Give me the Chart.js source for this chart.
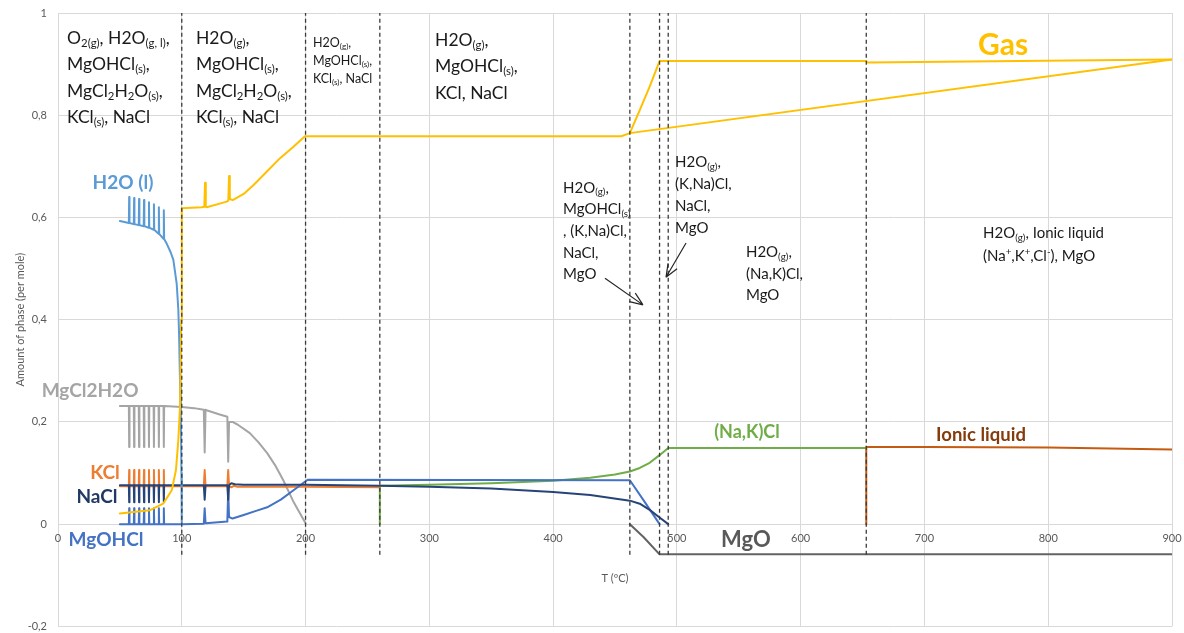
<!DOCTYPE html>
<html>
<head>
<meta charset="utf-8">
<script src="https://cdn.jsdelivr.net/npm/chart.js@4.4.1/dist/chart.umd.min.js"></script>
<style>
  html, body { margin: 0; padding: 0; background: #ffffff; }
  #wrap { width: 1184px; height: 633px; position: relative; }
</style>
</head>
<body>
<div id="wrap"><canvas id="c" width="1184" height="633"></canvas></div>
<script>
// ---------- DATA ----------
const xTickValues = [0, 100, 200, 300, 400, 500, 600, 700, 800, 900];
const xTickLabels = ['0', '100', '200', '300', '400', '500', '600', '700', '800', '900'];
const yTickValues = [-0.2, 0, 0.2, 0.4, 0.6, 0.8, 1];
const yTickLabels = ['-0,2', '0', '0,2', '0,4', '0,6', '0,8', '1'];

// temperatures of the phase boundaries (dashed lines)
const boundaryT = [100, 200, 260, 462, 486, 493, 653];
const boundaryRange = [-0.06, 1];

// Gas (main branch)
const gasT = [50, 74, 85, 92, 95.3, 97.2, 98.6, 99.5, 100, 116, 118.2, 118.8, 119.4, 120.1, 136.3, 137.6, 138.2, 138.8, 141.1, 150, 157.8, 168, 179.4, 190, 199.5, 455, 462, 470, 478, 486, 653, 654, 900];
const gasV = [0.021, 0.027, 0.04, 0.067, 0.106, 0.164, 0.23, 0.4, 0.618, 0.62, 0.621, 0.668, 0.621, 0.62, 0.631, 0.633, 0.681, 0.636, 0.634, 0.646, 0.663, 0.688, 0.716, 0.738, 0.759, 0.759, 0.765, 0.81, 0.856, 0.906, 0.906, 0.903, 0.909];
// Gas (second branch)
const gas2T = [462, 900];
const gas2V = [0.765, 0.909];

// oscillation teeth below 90 ºC
const toothT = [57.5, 61.5, 65.5, 69.5, 73.5, 77.5, 81.5, 85.5];

// H2O (l)
const h2oT = [50, 57.5, 61.5, 65.5, 69.5, 73.5, 77.5, 81.5, 85.5, 88, 91, 93.2, 95.9, 97.2, 97.8, 98.6, 99.3, 99.7, 100];
const h2oV = [0.593, 0.589, 0.587, 0.585, 0.583, 0.58, 0.576, 0.568, 0.558, 0.548, 0.532, 0.517, 0.47, 0.42, 0.373, 0.275, 0.2, 0.1, 0.0];
const h2oToothBase = [0.589, 0.587, 0.585, 0.583, 0.58, 0.576, 0.568, 0.558];
const h2oToothTip = [0.640, 0.638, 0.636, 0.634, 0.630, 0.626, 0.620, 0.614];

// MgCl2H2O
const mgcl2T = [50, 100, 110, 117.8, 118.5, 119.2, 120, 130, 136.8, 137.5, 138.2, 141, 145, 155, 162, 169, 176, 182, 190, 200];
const mgcl2V = [0.231, 0.229, 0.227, 0.224, 0.14, 0.224, 0.223, 0.215, 0.21, 0.122, 0.2, 0.2, 0.195, 0.178, 0.16, 0.139, 0.113, 0.086, 0.045, 0.002];
const mgcl2ToothBase = [0.231, 0.231, 0.231, 0.231, 0.231, 0.231, 0.231, 0.231];
const mgcl2ToothTip = [0.151, 0.151, 0.151, 0.151, 0.151, 0.151, 0.151, 0.151];

// KCl
const kclT = [50, 117.8, 118.5, 119.2, 136.8, 137.5, 138.2, 140, 142, 145, 200, 260];
const kclV = [0.074, 0.074, 0.106, 0.074, 0.074, 0.106, 0.074, 0.072, 0.075, 0.073, 0.073, 0.072];
const kclToothBase = [0.074, 0.074, 0.074, 0.074, 0.074, 0.074, 0.074, 0.074];
const kclToothTip = [0.106, 0.106, 0.106, 0.106, 0.106, 0.106, 0.106, 0.106];

// NaCl
const naclT = [50, 117.8, 118.5, 119.2, 136.8, 137.5, 138.2, 140, 143, 150, 200, 260, 300, 350, 400, 430, 462, 470, 478, 486, 493];
const naclV = [0.076, 0.076, 0.048, 0.076, 0.076, 0.048, 0.076, 0.08, 0.078, 0.077, 0.077, 0.075, 0.073, 0.07, 0.063, 0.057, 0.046, 0.04, 0.028, 0.013, 0.0];
const naclToothBase = [0.076, 0.076, 0.076, 0.076, 0.076, 0.076, 0.076, 0.076];
const naclToothTip = [0.043, 0.043, 0.043, 0.043, 0.043, 0.043, 0.043, 0.043];

// MgOHCl
const mgohclT = [50, 100, 117.8, 118.5, 119.2, 136.8, 137.5, 138.2, 141, 150, 160, 169, 180, 190, 200, 202, 462, 473, 486];
const mgohclV = [0.0, 0.0, 0.001, 0.031, 0.002, 0.005, 0.066, 0.014, 0.011, 0.018, 0.026, 0.033, 0.048, 0.066, 0.084, 0.087, 0.086, 0.047, 0.0];
const mgohclToothBase = [0, 0, 0, 0, 0, 0, 0, 0];
const mgohclToothTip = [0.031, 0.031, 0.031, 0.031, 0.031, 0.031, 0.031, 0.031];

// (Na,K)Cl
const nakclT = [260, 260, 300, 350, 400, 430, 450, 462, 470, 478, 486, 493, 653];
const nakclV = [0.0, 0.075, 0.077, 0.08, 0.085, 0.091, 0.097, 0.103, 0.11, 0.12, 0.135, 0.149, 0.149];

// Ionic liquid
const ionicT = [653, 653, 700, 800, 900];
const ionicV = [0.0, 0.151, 0.151, 0.15, 0.146];

// MgO
const mgoT = [462, 473, 486, 900];
const mgoV = [0.0, -0.025, -0.059, -0.059];

// ---------- helpers ----------
function pts(xs, ys) { return xs.map((x, i) => ({ x: x, y: ys[i] })); }
// curve points plus thin oscillation teeth (base -> tip -> base)
function withTeeth(xs, ys, tx, tBase, tTip) {
  const out = pts(xs, ys).filter(p => !tx.includes(p.x));
  const w = 0.25; // tooth half-width in ºC (drawing width only)
  tx.forEach((t, i) => {
    out.push({ x: t - w, y: tBase[i] }, { x: t, y: tTip[i] }, { x: t + w, y: tBase[i] });
  });
  out.sort((a, b) => a.x - b.x);
  return out;
}

const FONT = 'Lato, "Open Sans", sans-serif';

const lineDS = (label, data, color, order, width) => ({
  label, data, borderColor: color, backgroundColor: color, showLine: true,
  pointRadius: 0, borderWidth: width || 2, order, fill: false, tension: 0,
  borderJoinStyle: 'round', borderCapStyle: 'round'
});

const datasets = [
  lineDS('Gas', pts(gasT, gasV), '#FFC000', 2),
  lineDS('Gas2', pts(gas2T, gas2V), '#FFC000', 2),
  lineDS('H2O (l)', withTeeth(h2oT, h2oV, toothT, h2oToothBase, h2oToothTip), '#5B9BD5', 3),
  lineDS('MgCl2H2O', withTeeth(mgcl2T, mgcl2V, toothT, mgcl2ToothBase, mgcl2ToothTip), '#A5A5A5', 7),
  lineDS('KCl', withTeeth(kclT, kclV, toothT, kclToothBase, kclToothTip), '#ED7D31', 6),
  lineDS('NaCl', withTeeth(naclT, naclV, toothT, naclToothBase, naclToothTip), '#264478', 4),
  lineDS('MgOHCl', withTeeth(mgohclT, mgohclV, toothT, mgohclToothBase, mgohclToothTip), '#4472C4', 5),
  lineDS('(Na,K)Cl', pts(nakclT, nakclV), '#70AD47', 8),
  lineDS('Ionic liquid', pts(ionicT, ionicV), '#C55A11', 9),
  lineDS('MgO', pts(mgoT, mgoV), '#636363', 9)
];
boundaryT.forEach(t => {
  datasets.push(Object.assign(lineDS('boundary', pts([t, t], boundaryRange), '#3A3A3A', 1, 1.3), { borderDash: [4, 3], borderCapStyle: 'butt' }));
});

// ---------- annotations (text) ----------
const seriesLabels = [
  { text: 'H2O (l)', x: 52.5, y: 0.667, size: 19, color: '#5B9BD5' },
  { text: 'MgCl2H2O', x: 25.9, y: 0.26, size: 19, color: '#A5A5A5' },
  { text: 'KCl', x: 38, y: 0.1, size: 19, color: '#ED7D31' },
  { text: 'NaCl', x: 31.5, y: 0.053, size: 19, color: '#1F3864' },
  { text: 'MgOHCl', x: 38.8, y: -0.031, size: 19, color: '#4472C4' },
  { text: 'Gas', x: 763.5, y: 0.937, size: 30, color: '#FFC000' },
  { text: '(Na,K)Cl', x: 556.6, y: 0.18, size: 18, color: '#70AD47' },
  { text: 'Ionic liquid', x: 745.7, y: 0.174, size: 18.5, color: '#843C0C' },
  { text: 'MgO', x: 555.8, y: -0.031, size: 22, color: '#595959' }
];
const regionTexts = [
  { x: 7.3, y: 0.951, size: 17.5, gap: 26.5, lines: ['O_{2(g)}, H2O_{(g, l)},', 'MgOHCl_{(s)},', 'MgCl_{2}H_{2}O_{(s)},', 'KCl_{(s)}, NaCl'] },
  { x: 111.5, y: 0.951, size: 17.5, gap: 26.5, lines: ['H2O_{(g)},', 'MgOHCl_{(s)},', 'MgCl_{2}H_{2}O_{(s)},', 'KCl_{(s)}, NaCl'] },
  { x: 206, y: 0.941, size: 12.5, gap: 18, lines: ['H2O_{(g)},', 'MgOHCl_{(s)},', 'KCl_{(s)}, NaCl'] },
  { x: 304.6, y: 0.947, size: 17.5, gap: 26.5, lines: ['H2O_{(g)},', 'MgOHCl_{(s)},', 'KCl, NaCl'] },
  { x: 408, y: 0.658, size: 15, gap: 21.7, lines: ['H2O_{(g)},', 'MgOHCl_{(s)}', ', (K,Na)Cl,', 'NaCl,', 'MgO'] },
  { x: 498.5, y: 0.708, size: 15, gap: 22, lines: ['H2O_{(g)},', '(K,Na)Cl,', 'NaCl,', 'MgO'] },
  { x: 555.8, y: 0.532, size: 15, gap: 21.7, lines: ['H2O_{(g)},', '(Na,K)Cl,', 'MgO'] },
  { x: 747.3, y: 0.569, size: 15, gap: 23, lines: ['H2O_{(g)}, Ionic liquid', '(Na^{+},K^{+},Cl^{-}), MgO'] }
];
const arrows = [
  { from: [441.9, 0.481], to: [472.6, 0.429] },
  { from: [507.4, 0.55], to: [491.2, 0.483] }
];

function drawRich(ctx, str, x, y, size, color) {
  const parts = str.split(/(_\{[^}]*\}|\^\{[^}]*\})/).filter(s => s.length);
  let cx = x;
  ctx.fillStyle = color;
  ctx.textBaseline = 'middle';
  ctx.textAlign = 'left';
  parts.forEach(p => {
    let s = p, fs = size, dy = 0;
    if (p.startsWith('_{')) { s = p.slice(2, -1); fs = size * 0.65; dy = size * 0.28; }
    else if (p.startsWith('^{')) { s = p.slice(2, -1); fs = size * 0.65; dy = -size * 0.3; }
    ctx.font = fs + 'px ' + FONT;
    ctx.fillText(s, cx, y + dy);
    cx += ctx.measureText(s).width;
  });
}

const annotationPlugin = {
  id: 'annot',
  afterDatasetsDraw(chart) {
    const ctx = chart.ctx, xs = chart.scales.x, ys = chart.scales.y;
    ctx.save();
    regionTexts.forEach(b => {
      const px = xs.getPixelForValue(b.x), py = ys.getPixelForValue(b.y);
      b.lines.forEach((l, i) => drawRich(ctx, l, px, py + i * b.gap, b.size, '#1a1a1a'));
    });
    seriesLabels.forEach(l => {
      ctx.font = 'bold ' + l.size + 'px ' + FONT;
      ctx.fillStyle = l.color;
      ctx.textAlign = 'center';
      ctx.textBaseline = 'middle';
      ctx.fillText(l.text, xs.getPixelForValue(l.x), ys.getPixelForValue(l.y));
    });
    ctx.strokeStyle = '#262626';
    ctx.lineWidth = 1.2;
    arrows.forEach(a => {
      const x1 = xs.getPixelForValue(a.from[0]), y1 = ys.getPixelForValue(a.from[1]);
      const x2 = xs.getPixelForValue(a.to[0]), y2 = ys.getPixelForValue(a.to[1]);
      const ang = Math.atan2(y2 - y1, x2 - x1), h = 14, sp = 0.38;
      ctx.beginPath();
      ctx.moveTo(x1, y1); ctx.lineTo(x2, y2);
      ctx.moveTo(x2, y2); ctx.lineTo(x2 - h * Math.cos(ang - sp), y2 - h * Math.sin(ang - sp));
      ctx.moveTo(x2, y2); ctx.lineTo(x2 - h * Math.cos(ang + sp), y2 - h * Math.sin(ang + sp));
      ctx.stroke();
    });
    ctx.restore();
  }
};

new Chart(document.getElementById('c'), {
  type: 'scatter',
  data: { datasets },
  options: {
    responsive: false,
    animation: false,
    layout: { padding: { left: 0, right: 12, top: 13, bottom: 6 } },
    plugins: { legend: { display: false }, tooltip: { enabled: false } },
    scales: {
      x: {
        type: 'linear', min: 0, max: 900,
        position: { y: 0 },
        afterBuildTicks: s => { s.ticks = xTickValues.map(v => ({ value: v })); },
        ticks: { callback: (v, i) => xTickLabels[i], color: '#595959', font: { family: FONT, size: 11 }, padding: 0, maxRotation: 0 },
        grid: { color: '#D9D9D9', drawTicks: true, tickLength: 8, tickColor: 'rgba(0,0,0,0)', lineWidth: 1 },
        border: { display: true, color: '#D9D9D9' },
        title: { display: true, text: 'T (ºC)', color: '#595959', font: { family: FONT, size: 11 }, padding: { top: 26 } }
      },
      y: {
        min: -0.2, max: 1,
        afterBuildTicks: s => { s.ticks = yTickValues.map(v => ({ value: v })); },
        afterFit: s => { s.width = 58; },
        ticks: { callback: (v, i) => yTickLabels[i], color: '#595959', font: { family: FONT, size: 11 }, padding: 0 },
        grid: { color: '#D9D9D9', drawTicks: true, tickLength: 11, tickColor: 'rgba(0,0,0,0)' },
        border: { display: false },
        title: { display: true, text: 'Amount of phase (per mole)', color: '#595959', font: { family: FONT, size: 11 }, padding: { top: 14, bottom: 0 } }
      }
    }
  },
  plugins: [annotationPlugin]
});
</script>
</body>
</html>
